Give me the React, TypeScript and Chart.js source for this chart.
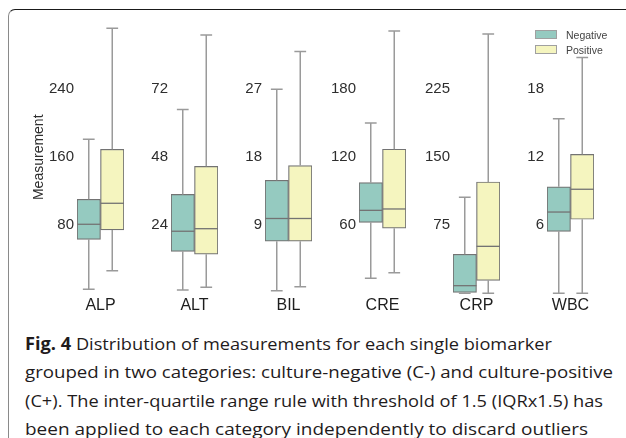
import React, { useEffect, useRef } from 'react';
import { Chart, registerables } from 'chart.js';

Chart.register(...registerables);

// ---------- data ----------
const categories = ['ALP', 'ALT', 'BIL', 'CRE', 'CRP', 'WBC'];
const seriesNames = ['Negative', 'Positive'];
const tickLabels = [
  [80, 160, 240],
  [24, 48, 72],
  [9, 18, 27],
  [60, 120, 180],
  [75, 150, 225],
  [6, 12, 18],
];

const negWhiskerLow = [4.7, 1.2, 0.34, 13.2, 0, 0];
const negQ1 = [63.5, 14.8, 6.9, 62.6, 1.1, 5.47];
const negMedian = [81.2, 21.9, 9.9, 73.2, 8.4, 7.17];
const negQ3 = [110.6, 34.9, 14.96, 97.6, 43, 9.4];
const negWhiskerHigh = [181.2, 64.9, 27.0, 150.3, 105.9, 15.4];

const posWhiskerLow = [26.6, 2.1, 0.87, 18.2, 0, 0];
const posQ1 = [74.5, 13.8, 6.9, 57.4, 14.3, 6.53];
const posMedian = [105.9, 22.8, 9.9, 74.4, 51.8, 9.18];
const posQ3 = [169.4, 44.8, 16.9, 127.1, 122.8, 12.26];
const posWhiskerHigh = [311.8, 91.2, 32.0, 231.4, 286, 20.8];

const captionLines = [
  'Distribution of measurements for each single biomarker',
  'grouped in two categories: culture-negative (C-) and culture-positive',
  '(C+). The inter-quartile range rule with threshold of 1.5 (IQRx1.5) has',
  'been applied to each category independently to discard outliers',
];
const captionLabel = 'Fig. 4';

// ---------- style ----------
const NEG_COLOR = '#95cac0';
const POS_COLOR = '#f5f5bf';
const EDGE = '#737373';
const WHISKER = '#9a9a9a';
const FONT = "'Liberation Sans', Arial, sans-serif";

const whiskerPlugin = {
  id: 'whiskers',
  afterDatasetsDraw(chart: any) {
    const ctx = chart.ctx;
    const y = chart.scales.y;
    chart.data.datasets.forEach((ds: any, di: number) => {
      const meta = chart.getDatasetMeta(di);
      meta.data.forEach((bar: any, j: number) => {
        const s = ds.stats[j];
        const { x, width } = bar.getProps(['x', 'width'], true);
        const yLo = y.getPixelForValue(s.lo);
        const yQ1 = y.getPixelForValue(s.q1);
        const yMed = y.getPixelForValue(s.med);
        const yQ3 = y.getPixelForValue(s.q3);
        const yHi = y.getPixelForValue(s.hi);
        const cap = width / 4;
        ctx.save();
        ctx.strokeStyle = WHISKER;
        ctx.lineWidth = 1.5;
        ctx.beginPath();
        ctx.moveTo(x, yQ1);
        ctx.lineTo(x, yLo);
        ctx.moveTo(x - cap, yLo);
        ctx.lineTo(x + cap, yLo);
        ctx.moveTo(x, yQ3);
        ctx.lineTo(x, yHi);
        ctx.moveTo(x - cap, yHi);
        ctx.lineTo(x + cap, yHi);
        ctx.stroke();
        ctx.strokeStyle = EDGE;
        ctx.lineWidth = 1.3;
        ctx.beginPath();
        ctx.moveTo(x - width / 2, yMed);
        ctx.lineTo(x + width / 2, yMed);
        ctx.stroke();
        ctx.restore();
      });
    });
  },
};

const BOX_LEFT0 = 77;
const PANEL_STEP = 94;
const PLOT_W = 47;
const CANVAS_TOP = 10;
const CANVAS_H = 305;

function Panel({ index }: { index: number }) {
  const ref = useRef<HTMLCanvasElement>(null);
  const axisW = index === 0 ? 46 : 30;
  const left = BOX_LEFT0 + PANEL_STEP * index - axisW;
  const width = axisW + PLOT_W + 3;

  useEffect(() => {
    if (!ref.current) return;
    const ticks = tickLabels[index];
    const k = ticks[0];
    const chart = new Chart(ref.current, {
      type: 'bar',
      data: {
        labels: [categories[index]],
        datasets: [
          {
            label: seriesNames[0],
            data: [[negQ1[index], negQ3[index]]],
            backgroundColor: NEG_COLOR,
            borderColor: EDGE,
            borderWidth: 1.2,
            borderSkipped: false,
            stats: [{ lo: negWhiskerLow[index], q1: negQ1[index], med: negMedian[index], q3: negQ3[index], hi: negWhiskerHigh[index] }],
          } as any,
          {
            label: seriesNames[1],
            data: [[posQ1[index], posQ3[index]]],
            backgroundColor: POS_COLOR,
            borderColor: EDGE,
            borderWidth: 1.2,
            borderSkipped: false,
            stats: [{ lo: posWhiskerLow[index], q1: posQ1[index], med: posMedian[index], q3: posQ3[index], hi: posWhiskerHigh[index] }],
          } as any,
        ],
      },
      options: {
        animation: false,
        responsive: false,
        maintainAspectRatio: false,
        layout: { padding: { top: 10, right: 3, left: 0, bottom: 0 } },
        plugins: { legend: { display: false }, tooltip: { enabled: false } },
        datasets: { bar: { categoryPercentage: 1, barPercentage: 1 } },
        scales: {
          x: {
            grid: { display: false, drawTicks: false },
            border: { display: false },
            ticks: { color: '#1e1e1e', font: { family: FONT, size: 16 }, padding: 1.5, maxRotation: 0, autoSkip: false },
            afterFit: (s: any) => {
              s.height = 20.5;
              s.paddingLeft = 0;
              s.paddingRight = 0;
            },
          },
          y: {
            min: -0.0177 * k,
            max: 4.019 * k,
            grid: { display: false, drawTicks: false },
            border: { display: false },
            ticks: { color: '#2e2e2e', font: { family: FONT, size: 15 }, padding: 3 },
            afterBuildTicks: (s: any) => {
              s.ticks = ticks.map((v) => ({ value: v }));
            },
            afterFit: (s: any) => {
              s.width = axisW;
              s.paddingTop = 0;
              s.paddingBottom = 0;
            },
            title: {
              display: index === 0,
              text: 'Measurement',
              color: '#2e2e2e',
              font: { family: FONT, size: 14 },
              padding: { top: 0, bottom: 0 },
            },
          },
        },
      } as any,
      plugins: [whiskerPlugin],
    });
    return () => chart.destroy();
  }, [index]);

  return (
    <canvas
      ref={ref}
      width={width}
      height={CANVAS_H}
      style={{ position: 'absolute', left, top: CANVAS_TOP, width, height: CANVAS_H }}
    />
  );
}

const captionTargets = [527, 588, 578, 563];
const captionTops = [334.5, 363, 391.5, 420];

function Caption() {
  const refs = useRef<(HTMLDivElement | null)[]>([]);
  useEffect(() => {
    refs.current.forEach((el, i) => {
      if (!el) return;
      el.style.transform = 'none';
      const w = el.getBoundingClientRect().width;
      if (w > 0) el.style.transform = `scaleX(${captionTargets[i] / w})`;
    });
  }, []);
  return (
    <>
      {captionLines.map((t, i) => (
        <div
          key={i}
          ref={(el) => {
            refs.current[i] = el;
          }}
          style={{
            position: 'absolute',
            left: 25,
            top: captionTops[i],
            whiteSpace: 'nowrap',
            fontFamily: "'Open Sans', 'Noto Sans', sans-serif",
            fontSize: 17,
            lineHeight: '17px',
            color: '#1f1b1c',
            transformOrigin: 'left center',
            display: 'inline-block',
          }}
        >
          {i === 0 ? (
            <>
              <b>{captionLabel}</b> {t}
            </>
          ) : (
            t
          )}
        </div>
      ))}
    </>
  );
}

function Legend() {
  const colors = [NEG_COLOR, POS_COLOR];
  return (
    <>
      {seriesNames.map((n, i) => (
        <div
          key={n}
          style={{
            position: 'absolute',
            left: 535,
            top: 27 + 15 * i,
            height: 15,
            display: 'flex',
            alignItems: 'center',
            fontFamily: FONT,
            fontSize: 10.5,
            color: '#444',
            zIndex: 2,
          }}
        >
          <span
            style={{
              display: 'inline-block',
              width: 20,
              height: 7,
              background: colors[i],
              border: '0.8px solid #a0a0a0',
              marginRight: 9,
            }}
          />
          <span>{n}</span>
        </div>
      ))}
    </>
  );
}

export default function App() {
  return (
    <div
      style={{
        position: 'absolute',
        left: 0,
        top: 0,
        width: 626,
        height: 438,
        overflow: 'hidden',
        background: '#fff',
      }}
    >
      <div
        style={{
          position: 'absolute',
          left: 8,
          top: 9,
          width: 700,
          height: 500,
          borderTop: '1.5px solid #1a1a1a',
          borderLeft: '1.5px solid #8a8a8a',
          borderTopLeftRadius: 7,
          boxSizing: 'border-box',
        }}
      />
      {categories.map((_, i) => (
        <Panel key={i} index={i} />
      ))}
      <Legend />
      <Caption />
    </div>
  );
}
